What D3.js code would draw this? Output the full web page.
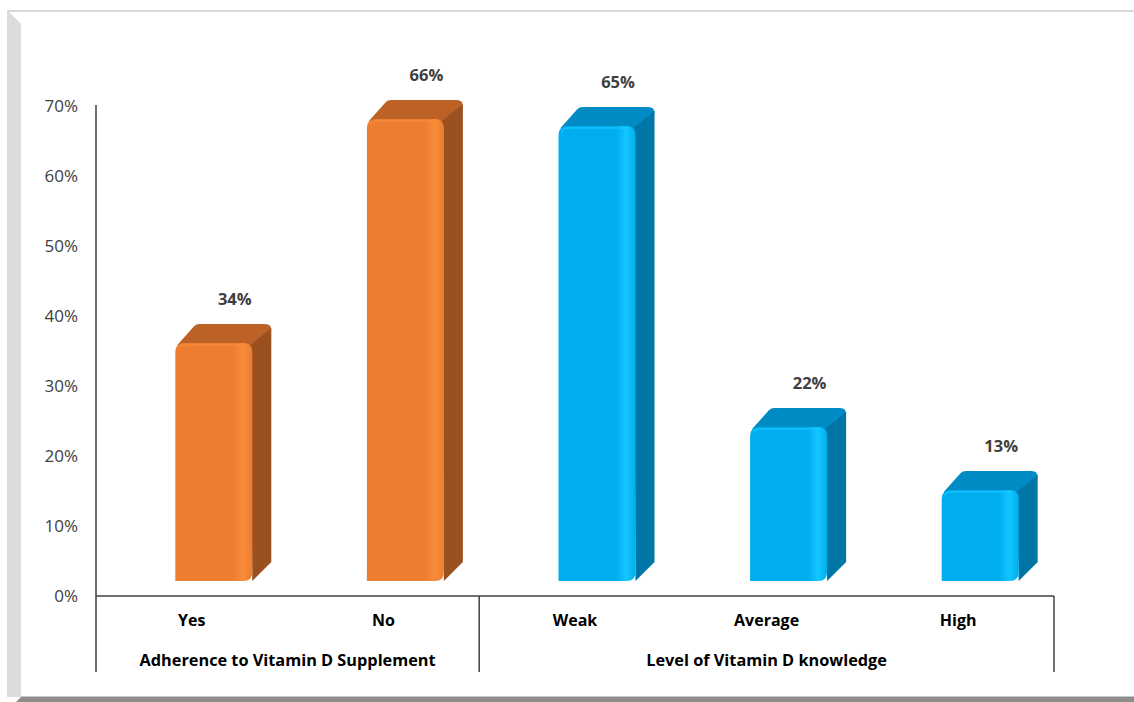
<!DOCTYPE html>
<html>
<head>
<meta charset="utf-8">
<script src="https://cdn.jsdelivr.net/npm/d3@7"></script>
<style>
  html, body { margin: 0; padding: 0; background: #fff; }
  svg { display: block; }
</style>
</head>
<body>
<svg id="chart" width="1134" height="702"></svg>
<script>
// data
const categories = ["Yes", "No", "Weak", "Average", "High"];
const values = [34, 66, 65, 22, 13];
const groupOfCategory = [0, 0, 1, 1, 1];
const groups = ["Adherence to Vitamin D Supplement", "Level of Vitamin D knowledge"];
const yTicks = [0, 10, 20, 30, 40, 50, 60, 70];

const width = 1134;
const height = 702;
const plotLeft = 96, plotRight = 1054, plotTop = 106, plotBottom = 596;
const depth = 19;        // 3d depth of the bars
const floorLift = 15;    // front face sits a bit above the axis line
const frontW = 77;
const frontShift = 22;   // front face is pushed right of the band centre

// colours per group
const palette = [
  { front: "#ED7D31", light: "#F98D3B", side: "#9A501F", top: "#BC6226" },
  { front: "#00AEEF", light: "#14C6FF", side: "#0076A6", top: "#008BC4" }
];

const svg = d3.select("#chart");
const defs = svg.append("defs");

// horizontal shading of the front face
palette.forEach((p, i) => {
  const g = defs.append("linearGradient").attr("id", "front" + i)
    .attr("x1", 0).attr("x2", 1).attr("y1", 0).attr("y2", 0);
  g.append("stop").attr("offset", "0%").attr("stop-color", p.front);
  g.append("stop").attr("offset", "75%").attr("stop-color", p.front);
  g.append("stop").attr("offset", "88%").attr("stop-color", p.light);
  g.append("stop").attr("offset", "100%").attr("stop-color", p.front);
});

// frame around the chart
svg.append("rect").attr("x", 7).attr("y", 10).attr("width", width - 7).attr("height", 2)
  .attr("fill", "#d9d9d9");
svg.append("path")
  .attr("d", "M7,10 L21,24 L21,697 L7,697 Z")
  .attr("fill", "#dcdcdc");
svg.append("path")
  .attr("d", `M21,697 L${width},697 L${width},702 L16,702 Z`)
  .attr("fill", "#8c8c8c");
svg.append("rect").attr("x", 21).attr("y", 696).attr("width", width - 21).attr("height", 1)
  .attr("fill", "#c8c8c8");

// scales
const x = d3.scaleBand().domain(categories).range([plotLeft, plotRight]);
const y = d3.scaleLinear().domain([0, 70]).range([plotBottom, plotTop]);

// y axis
const yAxis = d3.axisLeft(y).tickValues(yTicks).tickSize(0).tickPadding(18)
  .tickFormat(d => d + "%");
svg.append("g")
  .attr("transform", `translate(${plotLeft},0)`)
  .call(yAxis)
  .call(g => g.select(".domain").remove())
  .call(g => g.selectAll("text")
    .attr("fill", "#404040")
    .style("font", "17px 'Open Sans', sans-serif"));

// bars
const bars = svg.append("g").selectAll("g").data(categories).join("g");

bars.each(function (c, i) {
  const p = palette[groupOfCategory[i]];
  const fx0 = x(c) + x.bandwidth() / 2 + frontShift - frontW / 2;
  const fx1 = fx0 + frontW;
  const fy0 = y(values[i]) - floorLift;
  const fy1 = y(0) - floorLift;
  const g = d3.select(this);
  const r = 9;

  // top face
  g.append("path")
    .attr("d", `M${fx0 + 2},${fy0 + 2} L${fx0 + depth},${fy0 - depth + 2} Q${fx0 + depth + 2},${fy0 - depth} ${fx0 + depth + 5},${fy0 - depth}
      L${fx1 + depth - 6},${fy0 - depth} Q${fx1 + depth},${fy0 - depth} ${fx1 + depth},${fy0 - depth + 6}
      L${fx1},${fy0 + 6} Z`)
    .attr("fill", p.top);

  // side face
  g.append("path")
    .attr("d", `M${fx1 - 2},${fy0 + 2} L${fx1 + depth},${fy0 - depth + 4} L${fx1 + depth},${fy1 - depth}
      L${fx1},${fy1} Z`)
    .attr("fill", p.side);

  // front face with rounded top corners and bottom right corner
  g.append("path")
    .attr("d", `M${fx0},${fy1} L${fx0},${fy0 + r} Q${fx0},${fy0} ${fx0 + r},${fy0}
      L${fx1 - r},${fy0} Q${fx1},${fy0} ${fx1},${fy0 + r}
      L${fx1},${fy1 - r} Q${fx1},${fy1} ${fx1 - r},${fy1} Z`)
    .attr("fill", `url(#front${groupOfCategory[i]})`);

  // soft highlight along the top edge
  g.append("path")
    .attr("d", `M${fx0 + 3},${fy0 + 6} Q${fx0 + 4},${fy0 + 2} ${fx0 + r + 2},${fy0 + 2} L${fx1 - r - 2},${fy0 + 2}`)
    .attr("fill", "none").attr("stroke", p.light).attr("stroke-width", 2).attr("opacity", 0.6);

  // value label
  g.append("text")
    .attr("x", fx0 + frontW / 2 + 21)
    .attr("y", fy0 - 38)
    .attr("text-anchor", "middle")
    .attr("fill", "#404040")
    .style("font", "bold 16.5px 'Open Sans', sans-serif")
    .text(values[i] + "%");
});

// axis lines
const axisColor = "#404040";
svg.append("line")
  .attr("x1", plotLeft).attr("x2", plotLeft)
  .attr("y1", plotTop - 1).attr("y2", 672)
  .attr("stroke", axisColor).attr("stroke-width", 1.5);
svg.append("line")
  .attr("x1", plotLeft).attr("x2", plotRight)
  .attr("y1", plotBottom).attr("y2", plotBottom)
  .attr("stroke", axisColor).attr("stroke-width", 1.5);

// group separators
const groupBounds = groups.map((gname, gi) => {
  const members = categories.filter((c, i) => groupOfCategory[i] === gi);
  return {
    name: gname,
    x0: x(members[0]),
    x1: x(members[members.length - 1]) + x.bandwidth()
  };
});
svg.append("g").selectAll("line")
  .data(groupBounds.map(d => d.x1))
  .join("line")
  .attr("x1", d => d).attr("x2", d => d)
  .attr("y1", plotBottom).attr("y2", 672)
  .attr("stroke", axisColor).attr("stroke-width", 1.5);

// category labels
svg.append("g").selectAll("text")
  .data(categories)
  .join("text")
  .attr("x", d => x(d) + x.bandwidth() / 2)
  .attr("y", 626)
  .attr("text-anchor", "middle")
  .attr("fill", "#000")
  .style("font", "bold 16px 'Open Sans', sans-serif")
  .text(d => d);

// group labels
svg.append("g").selectAll("text")
  .data(groupBounds)
  .join("text")
  .attr("x", d => (d.x0 + d.x1) / 2)
  .attr("y", 666)
  .attr("text-anchor", "middle")
  .attr("fill", "#000")
  .style("font", "bold 16.3px 'Open Sans', sans-serif")
  .text(d => d.name);
</script>
</body>
</html>
